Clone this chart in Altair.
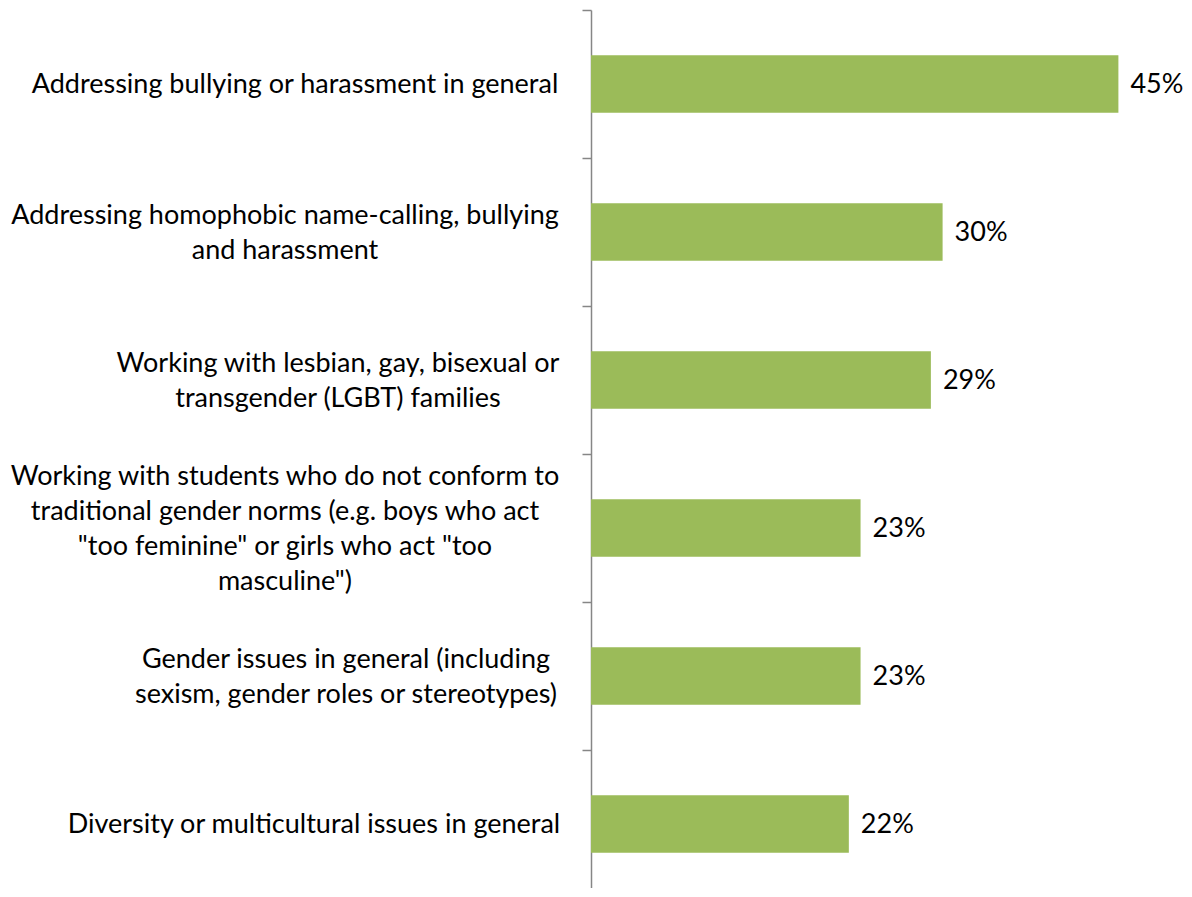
import altair as alt
import pandas as pd

categories = [
    "Addressing bullying or harassment in general",
    "Addressing homophobic name-calling, bullying|and harassment",
    "Working with lesbian, gay, bisexual or|transgender (LGBT) families",
    "Working with students who do not conform to|traditional gender norms (e.g. boys who act|\"too feminine\" or girls who act \"too|masculine\")",
    "Gender issues in general (including|sexism, gender roles or stereotypes)",
    "Diversity or multicultural issues in general",
]
values = [45, 30, 29, 23, 23, 22]
value_labels = ["45%", "30%", "29%", "23%", "23%", "22%"]

# horizontal centre of each label block relative to the axis (styling)
label_center = [-296, -306, -253, -306, -245, -277]

df = pd.DataFrame({"cat": categories, "val": values, "lab": value_labels})

FONT = "Lato"
FS = 27
LH = 35

y = alt.Y(
    "cat:N",
    sort=categories,
    scale=alt.Scale(paddingInner=0, paddingOuter=0, range=[0, 888]),
    axis=alt.Axis(
        title=None,
        tickBand="extent",
        labels=False,
        domainColor="#868686",
        domainWidth=1.5,
        tickColor="#868686",
        tickWidth=1.5,
        tickSize=9,
    ),
)
x = alt.X("val:Q", scale=alt.Scale(domain=[0, 50], nice=False, range=[0, 586]), axis=None)
y_plain = alt.Y("cat:N", sort=categories)

bars = alt.Chart(df).mark_bar(color="#9BBB59", height={"band": 0.39}).encode(x=x, y=y)
texts = alt.Chart(df).mark_text(
    align="left", baseline="middle", dx=12, dy=1, font=FONT, fontSize=FS, color="#000000"
).encode(x=x, y=y_plain, text="lab:N")

label_layers = []
for cat, cx in zip(categories, label_center):
    n_lines = cat.count("|") + 1
    label_layers.append(
        alt.Chart(df)
        .transform_filter(alt.FieldEqualPredicate(field="cat", equal=cat))
        .mark_text(
            align="center", baseline="middle", lineBreak="|", lineHeight=LH,
            dy=-(n_lines - 1) * LH / 2 + 1,
            font=FONT, fontSize=FS, color="#000000",
        )
        .encode(y=y_plain, x=alt.value(cx), text="cat:N")
    )

chart = (
    alt.layer(bars, texts, *label_layers)
    .properties(
        width=540,
        height=878,
        background="#ffffff",
        autosize=alt.AutoSizeParams(type="none"),
        padding={"left": 583, "top": 2, "right": 53, "bottom": 0},
    )
    .configure_view(stroke=None)
)

chart.save("out.html", embed_options={"renderer": "svg", "actions": False})
